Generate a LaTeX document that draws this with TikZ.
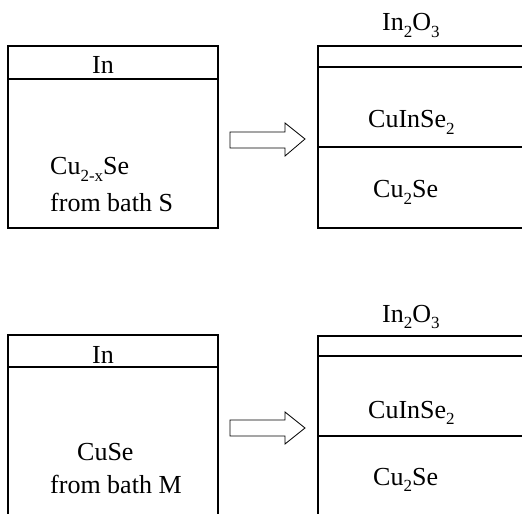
\documentclass[tikz,border=0pt]{standalone}
\usepackage{fontspec}
\setmainfont{Liberation Serif}
\newcommand{\lowsub}[1]{\raisebox{-0.24em}{\fontsize{17bp}{17bp}\selectfont #1}}
\begin{document}
\begin{tikzpicture}[x=1bp,y=-1bp,
  layer/.style={line width=1.6bp,draw=black},
  blockarrow/.style={line width=0.8bp,draw=black,fill=white,line join=miter},
  lbl/.style={anchor=base west,inner sep=0pt,font=\fontsize{26bp}{30bp}\selectfont}]
\useasboundingbox (0,0) rectangle (522,514);
\clip (0,0) rectangle (522,514);

% ---- upper row: Cu(2-x)Se from bath S ----
\draw[layer] (8,46) rectangle (218,228);
\draw[layer] (8,79) -- (218,79);
\node[lbl] (inA) at (92,74) {In};
\node[lbl] (cuA) at (50,175) {Cu\lowsub{2-x}Se};
\node[lbl] (bathA) at (50,211) {from bath S};

\draw[blockarrow] (230,132) -- (285,132) -- (285,123) -- (305,139)
  -- (285,156) -- (285,148) -- (230,148) -- cycle;

\draw[layer] (530,46) -- (318,46) -- (318,228) -- (530,228);
\draw[layer] (318,67) -- (530,67);
\draw[layer] (318,147) -- (530,147);
\node[lbl] (oxA) at (382,31) {In\lowsub{2}O\lowsub{3}};
\node[lbl] (cisA) at (368,128) {CuInSe\lowsub{2}};
\node[lbl] (csA) at (373,198) {Cu\lowsub{2}Se};

% ---- lower row: CuSe from bath M ----
\draw[layer] (8,530) -- (8,335) -- (218,335) -- (218,530);
\draw[layer] (8,367) -- (218,367);
\node[lbl] (inB) at (92,363) {In};
\node[lbl] (cuB) at (77,460) {CuSe};
\node[lbl] (bathB) at (50,493) {from bath M};

\draw[blockarrow] (230,420) -- (285,420) -- (285,412) -- (305,428)
  -- (285,444) -- (285,436) -- (230,436) -- cycle;

\draw[layer] (530,336) -- (318,336) -- (318,530);
\draw[layer] (318,356) -- (530,356);
\draw[layer] (318,436) -- (530,436);
\node[lbl] (oxB) at (382,322) {In\lowsub{2}O\lowsub{3}};
\node[lbl] (cisB) at (368,418) {CuInSe\lowsub{2}};
\node[lbl] (csB) at (373,485) {Cu\lowsub{2}Se};
\end{tikzpicture}
\end{document}
